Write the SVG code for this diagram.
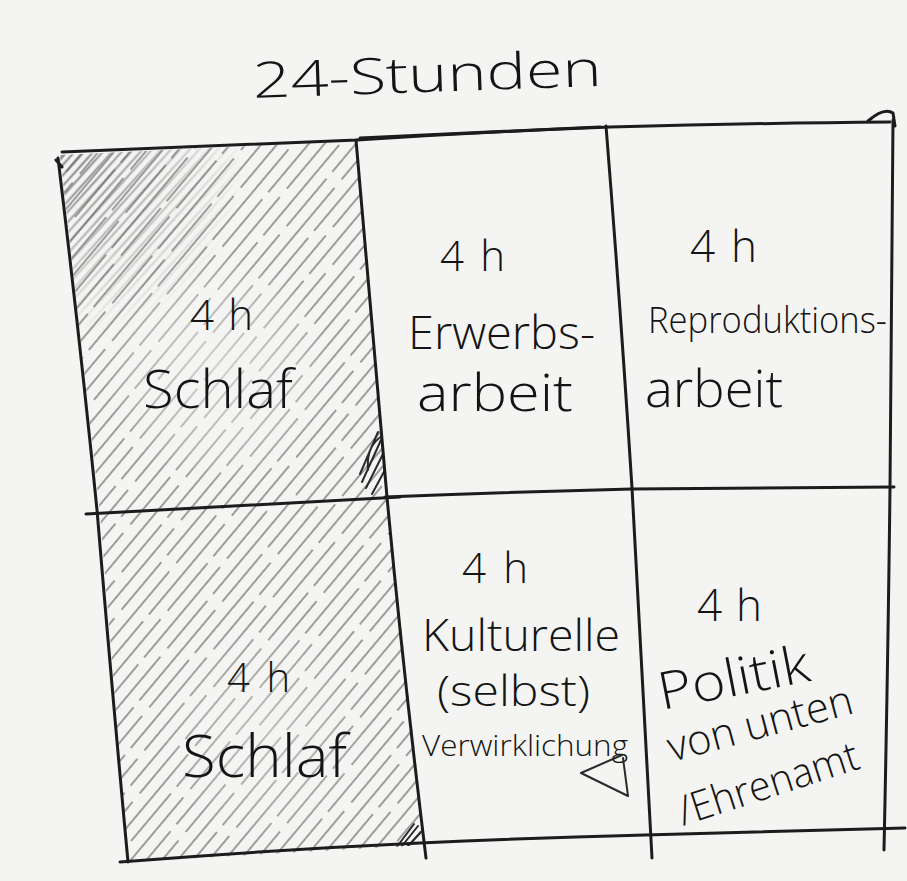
<svg xmlns="http://www.w3.org/2000/svg" width="907" height="881" viewBox="0 0 907 881">
  <style>
    .ink { fill: none; stroke: #1c1c1c; stroke-width: 3; stroke-linecap: round; stroke-linejoin: round; }
    .thin { fill: none; stroke: #2a2a2a; stroke-width: 2; stroke-linecap: round; stroke-linejoin: round; }
    .hand { font-family: "Open Sans", "Liberation Sans", "DejaVu Sans", sans-serif; font-weight: 300; fill: #141414; }
    .hatch { stroke: #727272; stroke-width: 1.35; stroke-dasharray: 118 9 62 11; }
  </style>
  <defs>
    <!-- pencil hatching: long slanted strokes, breaks staggered from line to line -->
    <pattern id="hatchA" width="60" height="200" patternUnits="userSpaceOnUse" patternTransform="rotate(40)">
      <line class="hatch" x1="5" y1="0" x2="5" y2="200"/>
      <line class="hatch" x1="17" y1="0" x2="17" y2="200" stroke-dashoffset="71"/>
      <line class="hatch" x1="29" y1="0" x2="29" y2="200" stroke-dashoffset="143"/>
      <line class="hatch" x1="41" y1="0" x2="41" y2="200" stroke-dashoffset="29"/>
      <line class="hatch" x1="53" y1="0" x2="53" y2="200" stroke-dashoffset="107"/>
    </pattern>
    <pattern id="hatchDense" width="7" height="100" patternUnits="userSpaceOnUse" patternTransform="rotate(42)">
      <line x1="3" y1="0" x2="3" y2="100" stroke="#6a6a6a" stroke-width="2.4"/>
    </pattern>
    <clipPath id="sleepCol">
      <path d="M60,155 L357,141 L387,497 L425,845 L128,862 L100,513 Z"/>
    </clipPath>
    <radialGradient id="clearTop" cx="218" cy="370" r="115" gradientUnits="userSpaceOnUse">
      <stop offset="0" stop-color="#666"/>
      <stop offset="0.7" stop-color="#bbb"/>
      <stop offset="1" stop-color="#fff"/>
    </radialGradient>
    <radialGradient id="clearBottom" cx="265" cy="735" r="110" gradientUnits="userSpaceOnUse">
      <stop offset="0" stop-color="#999"/>
      <stop offset="0.7" stop-color="#ddd"/>
      <stop offset="1" stop-color="#fff"/>
    </radialGradient>
    <mask id="hatchFade" maskUnits="userSpaceOnUse" x="0" y="0" width="907" height="881">
      <rect width="907" height="881" fill="#fff"/>
      <circle cx="218" cy="370" r="115" fill="url(#clearTop)"/>
      <circle cx="265" cy="735" r="110" fill="url(#clearBottom)"/>
    </mask>
    <radialGradient id="cornerGrad" cx="75" cy="165" r="170" gradientUnits="userSpaceOnUse">
      <stop offset="0" stop-color="#fff"/>
      <stop offset="0.4" stop-color="#999"/>
      <stop offset="1" stop-color="#000"/>
    </radialGradient>
    <mask id="cornerMask" maskUnits="userSpaceOnUse" x="0" y="0" width="907" height="881">
      <rect width="907" height="881" fill="url(#cornerGrad)"/>
    </mask>
  </defs>

  <!-- paper -->
  <rect width="907" height="881" fill="#f4f4f3"/>

  <!-- shaded sleep column -->
  <g id="sleep-shading" clip-path="url(#sleepCol)">
    <rect x="50" y="130" width="390" height="740" fill="url(#hatchA)" mask="url(#hatchFade)"/>
    <rect x="50" y="130" width="280" height="240" fill="url(#hatchDense)" mask="url(#cornerMask)" opacity="0.7"/>
    <!-- darker scribble near the divider -->
    <path class="thin" stroke="#555" stroke-width="1.4" d="M366,488 L384,452 M362,482 L381,440 M368,470 Q366,446 382,436 M372,494 L386,468 M360,474 L378,432"/>
    <path class="thin" stroke="#666" stroke-width="1.3" d="M402,846 L418,826 M408,846 L421,832 M396,848 L414,824"/>
  </g>

  <!-- grid lines -->
  <g id="grid">
    <path class="ink" d="M62,152 Q210,146 357,140 Q480,132 610,127 Q760,123 890,122"/>
    <path class="ink" d="M360,138 Q480,133 600,127" stroke-width="4"/>
    <path class="ink" d="M868,121 Q884,107 893,113 L895,126" stroke-width="2"/>
    <path class="ink" d="M56,160 L62,167 M58,158 Q80,340 97,510 Q112,690 128,862" stroke-width="2.4"/>
    <path class="ink" d="M86,514 Q240,505 400,497"/>
    <path class="ink" d="M385,497 Q510,492 632,489 Q760,488 894,487" stroke-width="3.4"/>
    <path class="ink" d="M120,862 Q270,850 420,843 Q530,838 645,835 Q770,832 905,828"/>
    <path class="ink" d="M356,140 Q372,320 387,497 Q403,670 426,858"/>
    <path class="ink" d="M606,126 Q620,300 632,488 Q641,660 652,858"/>
    <path class="ink" d="M893,120 Q892,300 890,488 Q888,660 884,850"/>
  </g>

  <!-- title -->
  <g id="title">
    <text class="hand" x="253" y="92" font-size="50" textLength="349" lengthAdjust="spacingAndGlyphs" transform="rotate(-2 425 85)">24-Stunden</text>
  </g>

  <g id="cell-schlaf-1">
    <text class="hand" x="190" y="330" font-size="42" textLength="63">4h</text>
    <text class="hand" x="143" y="408" font-size="54" textLength="150" lengthAdjust="spacingAndGlyphs">Schlaf</text>
  </g>

  <g id="cell-schlaf-2">
    <text class="hand" x="227" y="692" font-size="40" textLength="63">4h</text>
    <text class="hand" x="182" y="777" font-size="58" textLength="165" lengthAdjust="spacingAndGlyphs">Schlaf</text>
  </g>

  <g id="cell-erwerb">
    <text class="hand" x="440" y="271" font-size="42" textLength="65">4h</text>
    <text class="hand" x="408" y="349" font-size="46" textLength="187" lengthAdjust="spacingAndGlyphs">Erwerbs-</text>
    <text class="hand" x="417" y="411" font-size="52" textLength="156" lengthAdjust="spacingAndGlyphs">arbeit</text>
  </g>

  <g id="cell-repro">
    <text class="hand" x="690" y="262" font-size="44" textLength="67">4h</text>
    <text class="hand" x="648" y="333" font-size="36" textLength="239" lengthAdjust="spacingAndGlyphs">Reproduktions-</text>
    <text class="hand" x="645" y="407" font-size="52" textLength="138" lengthAdjust="spacingAndGlyphs">arbeit</text>
  </g>

  <g id="cell-kultur">
    <text class="hand" x="462" y="583" font-size="42" textLength="66">4h</text>
    <text class="hand" x="422" y="651" font-size="45" textLength="198" lengthAdjust="spacingAndGlyphs">Kulturelle</text>
    <text class="hand" x="437" y="706" font-size="42" textLength="153" lengthAdjust="spacingAndGlyphs">(selbst)</text>
    <text class="hand" x="422" y="756" font-size="30" textLength="206" lengthAdjust="spacingAndGlyphs">Verwirklichung</text>
    <path class="thin" d="M622,755 L581,773 L628,796 L623,758"/>
  </g>

  <g id="cell-politik">
    <text class="hand" x="697" y="621" font-size="44" textLength="65">4h</text>
    <text class="hand" x="662" y="710" font-size="52" textLength="153" lengthAdjust="spacingAndGlyphs" transform="rotate(-11 662 710)">Politik</text>
    <text class="hand" x="672" y="762" font-size="42" textLength="190" lengthAdjust="spacingAndGlyphs" transform="rotate(-15 672 762)">von unten</text>
    <text class="hand" x="683" y="826" font-size="41" textLength="188" lengthAdjust="spacingAndGlyphs" transform="rotate(-18 683 826)">/Ehrenamt</text>
  </g>
</svg>
